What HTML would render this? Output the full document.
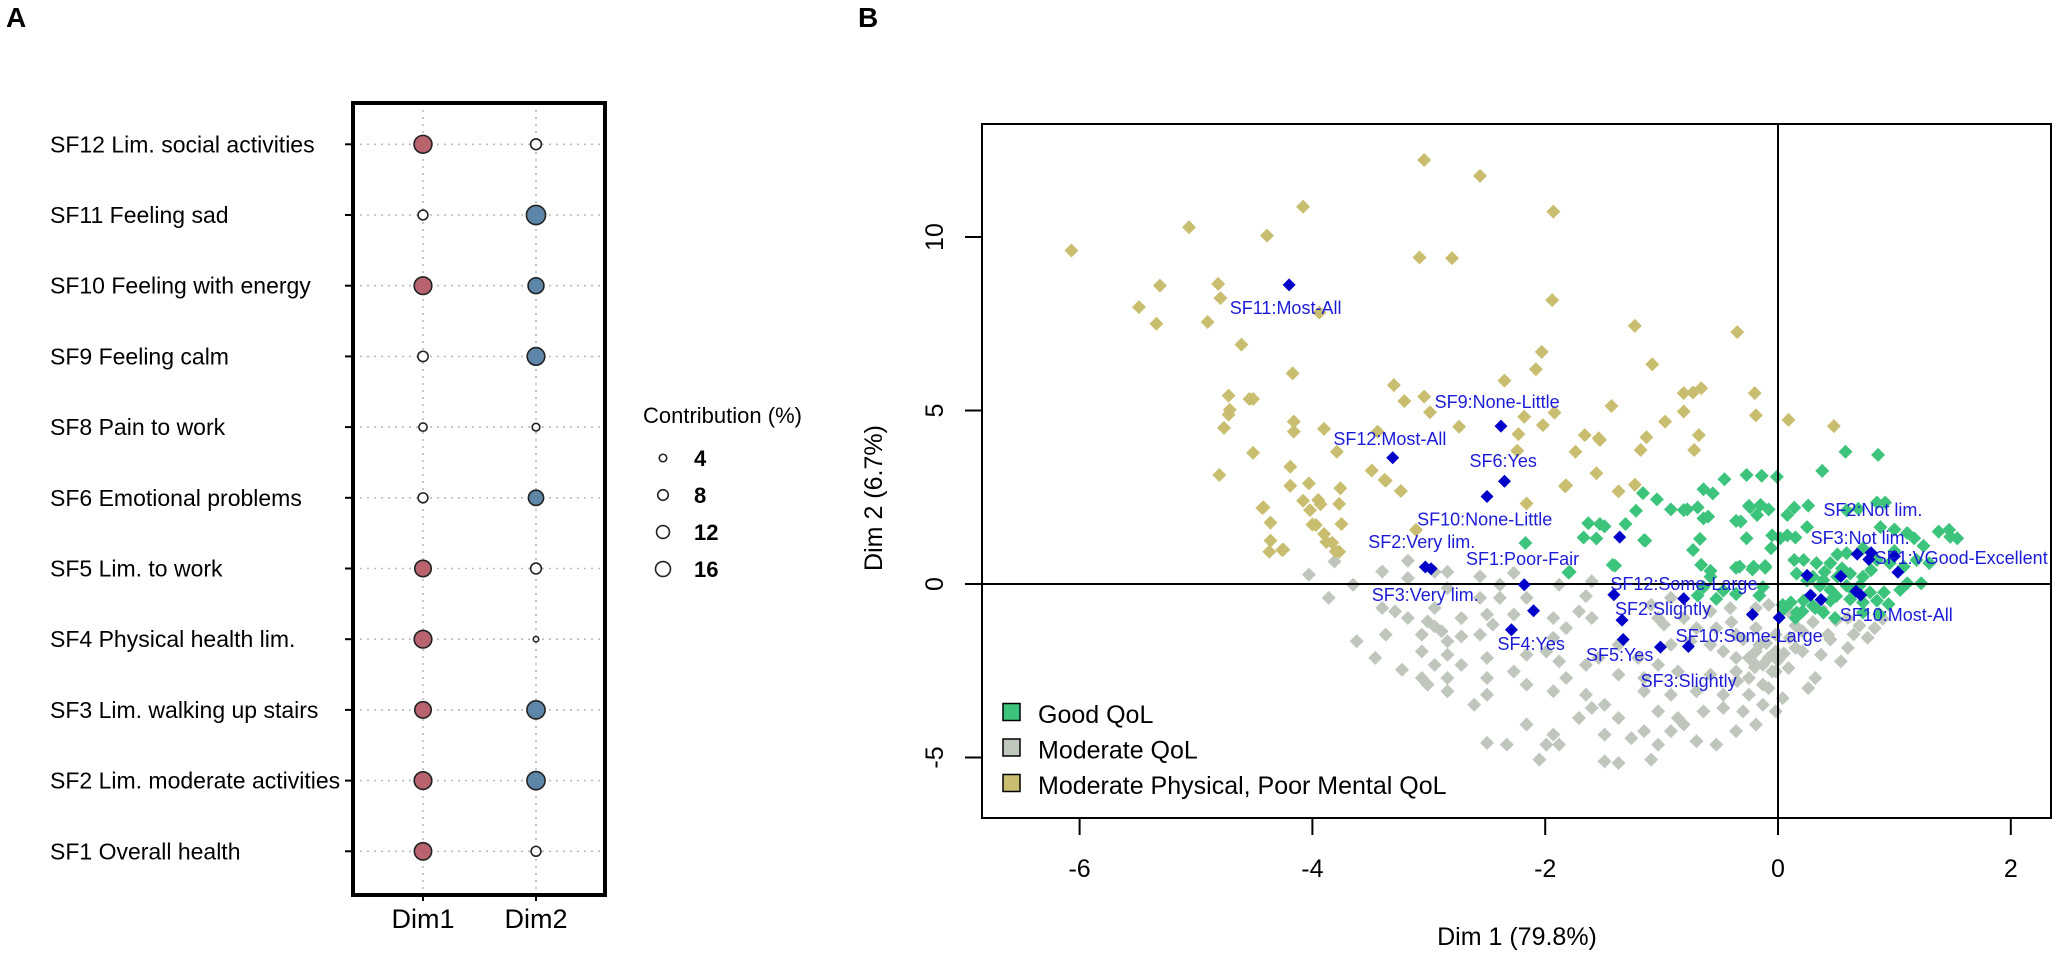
<!DOCTYPE html>
<html><head><meta charset="utf-8"><style>
html,body{margin:0;padding:0;background:#fff;}
svg{display:block;font-family:"Liberation Sans",Arial,sans-serif;}
</style></head><body>
<svg id="fig" width="2056" height="955" viewBox="0 0 2056 955" xmlns="http://www.w3.org/2000/svg">
<text x="6" y="27" font-size="28" font-weight="bold">A</text>
<text x="858" y="27" font-size="28" font-weight="bold">B</text>
<g id="pa"></g>
<g id="pb"></g>
</svg>
<script>
// ---------- Panel A data ----------
const rowLabels = ["SF12 Lim. social activities","SF11 Feeling sad","SF10 Feeling with energy","SF9 Feeling calm","SF8 Pain to work","SF6 Emotional problems","SF5 Lim. to work","SF4 Physical health lim.","SF3 Lim. walking up stairs","SF2 Lim. moderate activities","SF1 Overall health"];
const dim1Contrib = [16.5,5,16,5.5,3.5,5,14,16,14,16,15.5];
const dim2Contrib = [6,19,13,16,3,12,6,1.5,17,17,5];
const legendSizes = [4,8,12,16];

// ---------- Panel B data ----------
const xTicks = [-6,-4,-2,0,2];
const yTicks = [-5,0,5,10];
const khakiD1 = [-3.04,-2.56,-4.08,-4.39,-1.93,-3.08,-2.80,-3.94,-1.94,-1.23,-0.35,-2.03,-2.08,-1.08,-2.35,-4.17,-3.30,-3.21,-3.04,-2.99,-0.81,-0.73,-0.66,-1.43,-0.81,-0.19,-1.92,-2.18,-2.02,-2.74,-0.97,-1.13,-0.68,-1.66,-1.53,-2.23,-4.16,-4.16,-3.90,-4.51,-3.79,-1.74,-1.18,-0.72,-6.07,-5.06,-5.31,-4.81,-4.79,-5.49,-5.34,-4.90,-4.61,-4.72,-4.54,-4.71,-4.72,-4.76,-4.51,-4.80,-4.19,-4.19,-4.03,-3.76,-3.95,-4.02,-3.77,-4.42,-4.36,-3.97,-3.90,-3.75,-3.83,-3.77,-4.36,-4.37,-4.26,-3.49,-3.38,-3.24,-3.44,-2.24,-2.16,-3.11,-4.43,-4.08,-3.93,-4.00,-4.25,-3.88,-3.80,-1.82,-1.37,-1.23,-3.37,-1.54,-1.56,-1.83,0.09,0.48,-0.2];
const khakiD2 = [12.22,11.76,10.87,10.04,10.73,9.41,9.39,7.82,8.18,7.44,7.26,6.69,6.19,6.33,5.86,6.07,5.73,5.27,5.40,4.95,5.50,5.52,5.64,5.13,4.97,4.86,4.94,4.82,4.58,4.53,4.68,4.23,4.29,4.29,4.15,4.32,4.68,4.39,4.47,5.33,3.81,3.81,3.86,3.86,9.61,10.28,8.60,8.65,8.24,7.98,7.50,7.55,6.90,5.43,5.33,5.02,4.88,4.50,3.78,3.14,3.38,2.83,2.90,2.76,2.42,2.13,2.31,2.21,1.77,1.70,1.44,1.73,1.19,0.93,1.25,0.93,0.98,3.27,3.00,2.68,4.39,3.84,2.32,1.56,2.19,2.40,2.30,1.71,0.99,1.21,0.94,2.84,2.67,2.86,2.98,4.20,3.19,2.82,4.73,4.55,5.5];
const greenD1 = [0.58,0.86,0.38,-0.27,-0.14,-0.01,-0.46,-0.64,-0.56,-1.16,-1.04,-1.22,-0.92,-0.81,-0.69,-0.60,-0.24,-0.15,-0.08,-0.18,-0.32,-1.63,-1.53,-1.49,-1.31,-1.67,-1.56,-1.14,-0.27,-0.05,0.02,-0.73,-0.06,-1.42,-1.79,-0.66,-0.33,-0.21,-0.11,-0.58,-0.64,-0.47,-0.36,-0.13,0.14,0.26,0.08,0.85,0.92,0.59,0.69,0.88,1.00,1.11,1.17,0.25,0.15,0.08,1.38,1.47,1.54,1.48,0.14,0.22,0.33,0.45,0.51,0.59,0.73,0.85,0.96,1.08,1.19,1.30,1.11,1.23,1.05,0.16,0.30,0.39,0.51,0.62,0.73,0.36,0.45,0.59,0.70,0.79,0.91,0.11,0.22,0.30,0.45,0.62,0.73,0.85,0.95,0.05,0.16,0.39,0.73,0.87,0.04,0.21,0.32,0.49,0.15,-1.15,-1.40,-2.17,-1.80,-0.78,-0.64,-0.67,-0.36,-0.25,-0.36,-0.22,-0.11,-0.58,-0.69,-0.53,-0.36,-0.16,0.4,0.55,0.65,0.25,0.8,0.5,1.0,1.25];
const greenD2 = [3.81,3.72,3.26,3.14,3.12,3.09,3.02,2.73,2.61,2.62,2.44,2.11,2.15,2.13,2.21,1.94,2.21,2.28,2.15,1.99,1.80,1.75,1.73,1.66,1.73,1.34,1.31,1.25,1.32,1.40,1.32,0.98,1.03,0.55,0.35,0.55,0.50,0.50,0.52,0.21,-0.09,-0.19,-0.28,-0.09,2.20,2.26,1.99,2.35,2.35,2.12,2.17,1.64,1.57,1.47,1.32,1.64,1.34,1.40,1.51,1.56,1.32,1.36,0.69,0.69,0.60,0.60,0.85,0.89,1.03,0.69,0.60,0.50,0.69,0.60,0.02,0.02,-0.17,0.30,0.21,0.11,0.21,0.30,0.21,-0.05,-0.17,-0.05,-0.05,-0.24,-0.24,-0.53,-0.48,-0.63,-0.48,-0.44,-0.53,-0.48,-0.58,-0.72,-0.82,-0.82,-0.82,-0.87,-0.6,-0.79,-0.69,-0.98,-0.98,1.26,0.53,1.18,0.33,2.15,1.89,1.30,1.82,2.25,0.47,0.42,0.47,0.38,-0.33,-0.43,-0.29,-0.33,0.35,0.45,-0.2,0.1,0.4,-0.35,0.95,1.1];
const grayD1 = [-4.03,-3.81,-3.65,-3.86,-3.40,-3.18,-2.95,-2.84,-2.56,-2.27,-2.39,-1.88,-1.65,-1.60,-3.40,-3.18,-3.01,-2.95,-2.89,-3.06,-2.84,-2.72,-3.37,-3.62,-3.46,-3.23,-3.01,-2.84,-2.61,-2.50,-2.27,-2.50,-3.06,-2.84,-2.95,-2.56,-2.45,-2.50,-2.27,-2.16,-1.99,-1.88,-1.82,-1.93,-2.33,-2.50,-1.99,-1.88,-2.05,-2.16,-1.93,-1.71,-1.60,-1.65,-1.49,-1.37,-1.49,-1.49,-1.37,-1.09,-1.03,-1.26,-1.15,-0.92,-0.81,-0.70,-0.53,-0.36,-0.19,-1.03,-0.86,-0.64,-0.47,-0.30,-0.13,-0.02,-1.15,-0.92,-0.70,-0.47,-0.25,-0.08,0.04,-0.86,-0.58,-0.36,-0.19,-0.02,0.09,0.32,0.26,-0.47,-0.36,-0.19,-0.08,0.04,0.21,0.37,0.54,0.60,0.77,0.83,-0.53,-0.36,-0.19,-0.02,0.21,0.43,0.15,-0.58,-0.41,-0.81,-0.70,-0.98,-0.19,-0.08,0.09,0.37,0.60,-1.37,-1.20,-1.03,-1.54,-1.65,-1.37,-1.15,-1.82,-1.93,-1.71,-1.60,-1.93,-1.09,-0.92,-1.03,-0.75,-0.58,-0.92,-0.25,-0.13,-0.25,-0.13,-0.05,-0.16,-0.02,-2.72,-3.06,-2.16,-2.50,-2.84,-3.29,-2.95,-2.72,-3.18,-2.84,-2.56,-2.39,-2.16,-0.3,-0.1,0.1,-0.2,0.0,0.15,-0.35,0.05,0.3,0.5,0.7,0.9,0.45,0.65,-0.4];
const grayD2 = [0.27,0.65,-0.02,-0.40,0.36,0.67,0.35,0.35,0.22,0.32,-0.02,-0.02,-0.35,0.08,-0.69,-0.98,-1.08,-1.22,-1.36,-1.46,-1.65,-1.51,-1.46,-1.65,-2.13,-2.47,-2.90,-3.09,-3.48,-2.13,-2.52,-2.71,-1.94,-2.04,-2.33,-1.46,-1.17,-0.88,-0.88,-2.04,-1.94,-2.23,-2.71,-3.09,-4.63,-4.58,-4.63,-4.63,-5.06,-4.05,-4.34,-3.86,-3.57,-3.19,-3.48,-3.86,-4.34,-5.11,-5.16,-5.06,-4.63,-4.44,-4.24,-4.24,-4.05,-4.53,-4.63,-4.24,-4.05,-3.67,-3.86,-3.67,-3.57,-3.67,-3.48,-3.67,-3.09,-3.19,-3.09,-3.19,-3.19,-3.00,-3.29,-2.52,-2.61,-2.52,-2.33,-2.52,-2.42,-2.71,-3.00,-1.94,-2.13,-1.94,-2.13,-2.04,-1.94,-2.04,-2.23,-1.84,-1.55,-1.27,-1.27,-1.46,-1.27,-1.46,-1.36,-1.46,-1.84,-0.79,-0.69,-0.98,-1.27,-1.17,-0.69,-0.60,-0.79,-0.69,-0.98,-1.75,-2.13,-2.33,-2.13,-2.33,-2.61,-2.71,-1.27,-0.98,-0.79,-0.98,-1.55,-0.60,-0.40,-0.98,-1.65,-1.75,-1.75,-2.71,-2.90,-2.13,-2.33,-2.52,-1.75,-1.94,-2.33,-2.71,-2.90,-3.19,-2.71,-0.79,-0.69,-0.98,0.17,-0.12,-0.40,-0.40,-0.40,-1.6,-1.7,-1.55,-2.4,-2.2,-1.2,-2.8,-2.0,-1.1,-1.05,-1.2,-1.0,-1.6,-1.45,-1.1];
const catD1 = [-4.20,-2.38,-3.31,-2.35,-2.50,-3.03,-2.98,-2.18,-2.10,-2.29,-1.36,-1.41,-0.81,-1.34,-1.33,-1.01,-0.77,-0.22,0.01,0.25,0.28,0.37,0.54,0.67,0.71,0.68,0.78,0.80,1.00,1.03];
const catD2 = [8.62,4.55,3.64,2.96,2.52,0.49,0.44,-0.02,-0.77,-1.32,1.35,-0.31,-0.42,-1.04,-1.60,-1.82,-1.80,-0.88,-0.97,0.25,-0.32,-0.45,0.22,-0.21,-0.32,0.86,0.71,0.90,0.80,0.34];
const catLabels = ["SF11:Most-All","SF9:None-Little","SF12:Most-All","SF6:Yes","SF10:None-Little","SF2:Very lim.","SF1:Poor-Fair","SF3:Very lim.","SF12:Some-Large","SF2:Slightly","SF10:Some-Large","SF4:Yes","SF5:Yes","SF3:Slightly","SF2:Not lim.","SF3:Not lim.","SF1:VGood-Excellent","SF10:Most-All"];
const catLabelD1 = [-4.71,-2.95,-3.82,-2.65,-3.10,-3.52,-2.68,-3.49,-1.44,-1.40,-0.88,-2.41,-1.65,-1.18,0.39,0.28,0.83,0.53];
const catLabelD2 = [7.78,5.07,4.00,3.37,1.69,1.04,0.55,-0.49,-0.17,-0.89,-1.67,-1.90,-2.22,-2.97,1.96,1.15,0.58,-1.07];
const legendNames = ["Good QoL","Moderate QoL","Moderate Physical, Poor Mental QoL"];
const legendColors = ["#3cc47c","#bfc7bd","#c9be70"];

const NS="http://www.w3.org/2000/svg";
function mk(parent,tag,attrs,text){const e=document.createElementNS(NS,tag);for(const k in attrs)e.setAttribute(k,attrs[k]);if(text!==undefined)e.textContent=text;parent.appendChild(e);return e;}

// ---------- Panel A ----------
const pa=document.getElementById('pa');
const boxL=353,boxR=605,boxT=103,boxB=895,rowY0=144.3,rowStep=70.7,colX=[423,536];
const rowY=i=>rowY0+i*rowStep;
const rad=c=>2.2*Math.sqrt(c);
colX.forEach((x,j)=>{const l=mk(pa,'line',{x1:x,x2:x,y1:boxT,y2:boxB,stroke:'#bbb','stroke-width':1.6,'stroke-dasharray':'2 5'});

});
rowLabels.forEach((lab,i)=>{const y=rowY(i);
 const g=mk(pa,'line',{x1:boxL,x2:boxR,y1:y,y2:y,stroke:'#bbb','stroke-width':1.6,'stroke-dasharray':'2 5'});
 
 
 const tk=mk(pa,'line',{x1:boxL-8,x2:boxL,y1:y,y2:y,stroke:'#000','stroke-width':2});
 
 
 const t=mk(pa,'text',{x:50,y:y+8,'font-size':23},lab);
 
 
 [dim1Contrib[i],dim2Contrib[i]].forEach((c,j)=>{
  const fill=c>8.33?(j===0?'#b8636e':'#5d86a8'):'#fff';
  const d=mk(pa,'circle',{cx:colX[j],cy:y,r:rad(c),fill:fill,stroke:'#222','stroke-width':1.6});
  
  
 });
});
const boxA=mk(pa,'rect',{x:boxL,y:boxT,width:boxR-boxL,height:boxB-boxT,fill:'none',stroke:'#000','stroke-width':4});


["Dim1","Dim2"].forEach((n,j)=>{
 const tk=mk(pa,'line',{x1:colX[j],x2:colX[j],y1:boxB,y2:boxB+6,stroke:'#000','stroke-width':2});
 
 
 const t=mk(pa,'text',{x:colX[j],y:928,'font-size':27,'text-anchor':'middle'},n);
 
 
});
const lt=mk(pa,'text',{x:643,y:423,'font-size':22},'Contribution (%)');


legendSizes.forEach((s,i)=>{const y=458+i*37;
 const c=mk(pa,'circle',{cx:663,cy:y,r:rad(s)*0.85,fill:'#fff',stroke:'#222','stroke-width':1.6});
 
 
 const t=mk(pa,'text',{x:694,y:y+8,'font-size':22,'font-weight':'bold'},String(s));
 
 
});

// ---------- Panel B ----------
const pb=document.getElementById('pb');
const bL=982,bR=2051,bT=124,bB=818;
const sx=v=>1778+116.4*v, sy=v=>584-34.7*v;
function diamond(x,y,h){return `${x},${y-h} ${x+h},${y} ${x},${y+h} ${x-h},${y}`;}
function drawPts(xs,ys,color,h,name){xs.forEach((v,i)=>{
 const p=mk(pb,'polygon',{points:diamond(sx(v),sy(ys[i]),h),fill:color});
 
 
});}
drawPts(grayD1,grayD2,legendColors[1],7,'moderate-qol-point');
drawPts(khakiD1,khakiD2,legendColors[2],7,'poor-mental-qol-point');
drawPts(greenD1,greenD2,legendColors[0],7,'good-qol-point');
const ax0=mk(pb,'line',{x1:sx(0),x2:sx(0),y1:bT,y2:bB,stroke:'#000','stroke-width':2});


const ay0=mk(pb,'line',{x1:bL,x2:bR,y1:sy(0),y2:sy(0),stroke:'#000','stroke-width':2});


drawPts(catD1,catD2,'#0000c8',6.5,'category-point');
catLabels.forEach((l,i)=>{
 const t=mk(pb,'text',{x:sx(catLabelD1[i]),y:sy(catLabelD2[i]),'font-size':18,fill:'#1c1cd8'},l);
 
 
});
const frame=mk(pb,'rect',{x:bL,y:bT,width:bR-bL,height:bB-bT,fill:'none',stroke:'#000','stroke-width':2});


xTicks.forEach(v=>{
 const tk=mk(pb,'line',{x1:sx(v),x2:sx(v),y1:bB,y2:bB+17,stroke:'#000','stroke-width':2});
 
 
 const t=mk(pb,'text',{x:sx(v),y:877,'font-size':25,'text-anchor':'middle'},String(v));
 
 
});
yTicks.forEach(v=>{
 const tk=mk(pb,'line',{x1:bL-17,x2:bL,y1:sy(v),y2:sy(v),stroke:'#000','stroke-width':2});
 
 
 const t=mk(pb,'text',{x:943,y:sy(v),'font-size':25,'text-anchor':'middle',transform:`rotate(-90 943 ${sy(v)})`},String(v));
 
 
});
const xt=mk(pb,'text',{x:1517,y:945,'font-size':25,'text-anchor':'middle'},'Dim 1 (79.8%)');


const yt=mk(pb,'text',{x:882,y:498,'font-size':25,'text-anchor':'middle',transform:'rotate(-90 882 498)'},'Dim 2 (6.7%)');


legendNames.forEach((n,i)=>{const y=712+i*35.5;
 const r=mk(pb,'rect',{x:1003,y:y-8.5,width:17,height:17,fill:legendColors[i],stroke:'#000','stroke-width':1.5});
 
 
 const t=mk(pb,'text',{x:1038,y:y+11,'font-size':25},n);
 
 
});
</script>
</body></html>
